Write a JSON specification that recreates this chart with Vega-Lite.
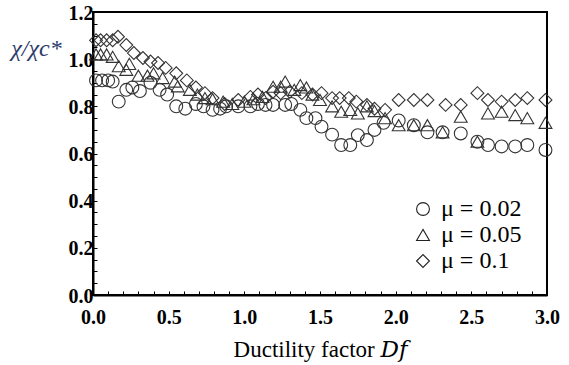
{
  "$schema": "https://vega.github.io/schema/vega-lite/v6.json",
  "width": 454,
  "height": 283,
  "autosize": {"type": "none"},
  "padding": {"left": 93, "top": 12, "right": 22, "bottom": 70},
  "background": "white",
  "config": {
    "view": {"stroke": "black", "strokeWidth": 2},
    "font": "Liberation Serif"
  },
  "data": {
    "values": [
      {"mu": "μ = 0.02", "d": 0.02, "r": 0.91}, {"mu": "μ = 0.02", "d": 0.06, "r": 0.91}, {"mu": "μ = 0.02", "d": 0.10, "r": 0.91}, {"mu": "μ = 0.02", "d": 0.13, "r": 0.905},
      {"mu": "μ = 0.02", "d": 0.17, "r": 0.82}, {"mu": "μ = 0.02", "d": 0.22, "r": 0.87}, {"mu": "μ = 0.02", "d": 0.26, "r": 0.88}, {"mu": "μ = 0.02", "d": 0.31, "r": 0.865},
      {"mu": "μ = 0.02", "d": 0.38, "r": 0.90}, {"mu": "μ = 0.02", "d": 0.44, "r": 0.87}, {"mu": "μ = 0.02", "d": 0.49, "r": 0.85}, {"mu": "μ = 0.02", "d": 0.55, "r": 0.80},
      {"mu": "μ = 0.02", "d": 0.61, "r": 0.79}, {"mu": "μ = 0.02", "d": 0.68, "r": 0.81}, {"mu": "μ = 0.02", "d": 0.73, "r": 0.80}, {"mu": "μ = 0.02", "d": 0.79, "r": 0.785},
      {"mu": "μ = 0.02", "d": 0.84, "r": 0.79}, {"mu": "μ = 0.02", "d": 0.88, "r": 0.80}, {"mu": "μ = 0.02", "d": 0.96, "r": 0.80}, {"mu": "μ = 0.02", "d": 1.04, "r": 0.80},
      {"mu": "μ = 0.02", "d": 1.09, "r": 0.81}, {"mu": "μ = 0.02", "d": 1.14, "r": 0.806}, {"mu": "μ = 0.02", "d": 1.19, "r": 0.806}, {"mu": "μ = 0.02", "d": 1.27, "r": 0.806},
      {"mu": "μ = 0.02", "d": 1.31, "r": 0.81}, {"mu": "μ = 0.02", "d": 1.37, "r": 0.785}, {"mu": "μ = 0.02", "d": 1.41, "r": 0.75}, {"mu": "μ = 0.02", "d": 1.47, "r": 0.75},
      {"mu": "μ = 0.02", "d": 1.51, "r": 0.714}, {"mu": "μ = 0.02", "d": 1.58, "r": 0.68}, {"mu": "μ = 0.02", "d": 1.64, "r": 0.636}, {"mu": "μ = 0.02", "d": 1.70, "r": 0.636},
      {"mu": "μ = 0.02", "d": 1.75, "r": 0.678}, {"mu": "μ = 0.02", "d": 1.81, "r": 0.657}, {"mu": "μ = 0.02", "d": 1.86, "r": 0.70}, {"mu": "μ = 0.02", "d": 1.92, "r": 0.73},
      {"mu": "μ = 0.02", "d": 2.02, "r": 0.74}, {"mu": "μ = 0.02", "d": 2.12, "r": 0.72}, {"mu": "μ = 0.02", "d": 2.21, "r": 0.69}, {"mu": "μ = 0.02", "d": 2.31, "r": 0.69},
      {"mu": "μ = 0.02", "d": 2.43, "r": 0.685}, {"mu": "μ = 0.02", "d": 2.54, "r": 0.65}, {"mu": "μ = 0.02", "d": 2.61, "r": 0.636}, {"mu": "μ = 0.02", "d": 2.70, "r": 0.63},
      {"mu": "μ = 0.02", "d": 2.79, "r": 0.63}, {"mu": "μ = 0.02", "d": 2.87, "r": 0.636}, {"mu": "μ = 0.02", "d": 2.99, "r": 0.615},

      {"mu": "μ = 0.05", "d": 0.02, "r": 1.02}, {"mu": "μ = 0.05", "d": 0.05, "r": 1.02}, {"mu": "μ = 0.05", "d": 0.09, "r": 1.02}, {"mu": "μ = 0.05", "d": 0.13, "r": 1.01},
      {"mu": "μ = 0.05", "d": 0.17, "r": 0.97}, {"mu": "μ = 0.05", "d": 0.22, "r": 0.955}, {"mu": "μ = 0.05", "d": 0.24, "r": 0.98}, {"mu": "μ = 0.05", "d": 0.30, "r": 0.93},
      {"mu": "μ = 0.05", "d": 0.36, "r": 0.93}, {"mu": "μ = 0.05", "d": 0.40, "r": 0.94}, {"mu": "μ = 0.05", "d": 0.46, "r": 0.92}, {"mu": "μ = 0.05", "d": 0.54, "r": 0.905},
      {"mu": "μ = 0.05", "d": 0.56, "r": 0.885}, {"mu": "μ = 0.05", "d": 0.64, "r": 0.87}, {"mu": "μ = 0.05", "d": 0.69, "r": 0.85}, {"mu": "μ = 0.05", "d": 0.74, "r": 0.835},
      {"mu": "μ = 0.05", "d": 0.79, "r": 0.83}, {"mu": "μ = 0.05", "d": 0.86, "r": 0.82}, {"mu": "μ = 0.05", "d": 0.92, "r": 0.81}, {"mu": "μ = 0.05", "d": 1.00, "r": 0.82},
      {"mu": "μ = 0.05", "d": 1.06, "r": 0.83}, {"mu": "μ = 0.05", "d": 1.12, "r": 0.84}, {"mu": "μ = 0.05", "d": 1.19, "r": 0.883}, {"mu": "μ = 0.05", "d": 1.24, "r": 0.883},
      {"mu": "μ = 0.05", "d": 1.27, "r": 0.905}, {"mu": "μ = 0.05", "d": 1.33, "r": 0.87}, {"mu": "μ = 0.05", "d": 1.37, "r": 0.89}, {"mu": "μ = 0.05", "d": 1.41, "r": 0.88},
      {"mu": "μ = 0.05", "d": 1.45, "r": 0.85}, {"mu": "μ = 0.05", "d": 1.50, "r": 0.827}, {"mu": "μ = 0.05", "d": 1.58, "r": 0.80}, {"mu": "μ = 0.05", "d": 1.64, "r": 0.777},
      {"mu": "μ = 0.05", "d": 1.70, "r": 0.785}, {"mu": "μ = 0.05", "d": 1.75, "r": 0.77}, {"mu": "μ = 0.05", "d": 1.81, "r": 0.80}, {"mu": "μ = 0.05", "d": 1.86, "r": 0.78},
      {"mu": "μ = 0.05", "d": 1.93, "r": 0.75}, {"mu": "μ = 0.05", "d": 2.02, "r": 0.72}, {"mu": "μ = 0.05", "d": 2.12, "r": 0.72}, {"mu": "μ = 0.05", "d": 2.21, "r": 0.72},
      {"mu": "μ = 0.05", "d": 2.31, "r": 0.69}, {"mu": "μ = 0.05", "d": 2.43, "r": 0.756}, {"mu": "μ = 0.05", "d": 2.54, "r": 0.65}, {"mu": "μ = 0.05", "d": 2.61, "r": 0.77},
      {"mu": "μ = 0.05", "d": 2.70, "r": 0.777}, {"mu": "μ = 0.05", "d": 2.79, "r": 0.763}, {"mu": "μ = 0.05", "d": 2.87, "r": 0.75}, {"mu": "μ = 0.05", "d": 2.99, "r": 0.73},

      {"mu": "μ = 0.1", "d": 0.02, "r": 1.08}, {"mu": "μ = 0.1", "d": 0.05, "r": 1.08}, {"mu": "μ = 0.1", "d": 0.09, "r": 1.08}, {"mu": "μ = 0.1", "d": 0.13, "r": 1.08},
      {"mu": "μ = 0.1", "d": 0.165, "r": 1.095}, {"mu": "μ = 0.1", "d": 0.22, "r": 1.06}, {"mu": "μ = 0.1", "d": 0.27, "r": 1.026}, {"mu": "μ = 0.1", "d": 0.33, "r": 1.005},
      {"mu": "μ = 0.1", "d": 0.38, "r": 0.99}, {"mu": "μ = 0.1", "d": 0.43, "r": 0.984}, {"mu": "μ = 0.1", "d": 0.48, "r": 0.963}, {"mu": "μ = 0.1", "d": 0.55, "r": 0.94},
      {"mu": "μ = 0.1", "d": 0.62, "r": 0.91}, {"mu": "μ = 0.1", "d": 0.68, "r": 0.88}, {"mu": "μ = 0.1", "d": 0.74, "r": 0.856}, {"mu": "μ = 0.1", "d": 0.79, "r": 0.835},
      {"mu": "μ = 0.1", "d": 0.87, "r": 0.81}, {"mu": "μ = 0.1", "d": 0.96, "r": 0.827}, {"mu": "μ = 0.1", "d": 1.04, "r": 0.84}, {"mu": "μ = 0.1", "d": 1.09, "r": 0.85},
      {"mu": "μ = 0.1", "d": 1.14, "r": 0.835}, {"mu": "μ = 0.1", "d": 1.19, "r": 0.862}, {"mu": "μ = 0.1", "d": 1.24, "r": 0.856}, {"mu": "μ = 0.1", "d": 1.30, "r": 0.862},
      {"mu": "μ = 0.1", "d": 1.38, "r": 0.856}, {"mu": "μ = 0.1", "d": 1.45, "r": 0.85}, {"mu": "μ = 0.1", "d": 1.51, "r": 0.856}, {"mu": "μ = 0.1", "d": 1.58, "r": 0.835},
      {"mu": "μ = 0.1", "d": 1.63, "r": 0.835}, {"mu": "μ = 0.1", "d": 1.69, "r": 0.835}, {"mu": "μ = 0.1", "d": 1.74, "r": 0.82}, {"mu": "μ = 0.1", "d": 1.81, "r": 0.806},
      {"mu": "μ = 0.1", "d": 1.86, "r": 0.79}, {"mu": "μ = 0.1", "d": 1.93, "r": 0.785}, {"mu": "μ = 0.1", "d": 2.02, "r": 0.827}, {"mu": "μ = 0.1", "d": 2.12, "r": 0.827},
      {"mu": "μ = 0.1", "d": 2.21, "r": 0.827}, {"mu": "μ = 0.1", "d": 2.33, "r": 0.806}, {"mu": "μ = 0.1", "d": 2.43, "r": 0.806}, {"mu": "μ = 0.1", "d": 2.54, "r": 0.856},
      {"mu": "μ = 0.1", "d": 2.61, "r": 0.827}, {"mu": "μ = 0.1", "d": 2.70, "r": 0.82}, {"mu": "μ = 0.1", "d": 2.79, "r": 0.827}, {"mu": "μ = 0.1", "d": 2.87, "r": 0.835},
      {"mu": "μ = 0.1", "d": 2.99, "r": 0.827}
    ]
  },
  "mark": {"type": "point", "filled": false, "size": 165, "strokeWidth": 1.1, "color": "#333333", "opacity": 1, "clip": false},
  "encoding": {
    "x": {
      "field": "d", "type": "quantitative",
      "scale": {"domain": [0, 3], "nice": false, "zero": false},
      "axis": {
        "title": "Ductility factor 𝐷𝑓",
        "titleFont": "Liberation Serif, DejaVu Serif, serif", "titleFontSize": 23, "titleFontWeight": "normal", "titleColor": "black", "titlePadding": 11,
        "values": [0,0.1,0.2,0.3,0.4,0.5,0.6,0.7,0.8,0.9,1,1.1,1.2,1.3,1.4,1.5,1.6,1.7,1.8,1.9,2,2.1,2.2,2.3,2.4,2.5,2.6,2.7,2.8,2.9,3],
        "labelExpr": "abs(datum.value*2 - round(datum.value*2)) < 0.001 ? format(datum.value, '.1f') : ''",
        "labelFont": "Liberation Serif", "labelFontSize": 20, "labelFontWeight": "bold", "labelColor": "black",
        "labelPadding": 16, "labelOverlap": false, "labelFlush": false,
        "tickSize": -4, "tickColor": "black", "tickWidth": 1,
        "domainColor": "black", "domainWidth": 2, "grid": false
      }
    },
    "y": {
      "field": "r", "type": "quantitative",
      "scale": {"domain": [0, 1.2], "nice": false, "zero": false},
      "axis": {
        "title": "χ/χc*",
        "titleFont": "Liberation Serif", "titleFontSize": 24, "titleFontStyle": "italic", "titleFontWeight": "normal", "titleColor": "#2b3a6b",
        "titleAngle": 0, "titleAlign": "center", "titleBaseline": "middle", "titleX": -57, "titleY": 36,
        "values": [0,0.05,0.1,0.15,0.2,0.25,0.3,0.35,0.4,0.45,0.5,0.55,0.6,0.65,0.7,0.75,0.8,0.85,0.9,0.95,1,1.05,1.1,1.15,1.2],
        "labelExpr": "abs(datum.value*5 - round(datum.value*5)) < 0.001 ? format(datum.value, '.1f') : ''",
        "labelFont": "Liberation Serif", "labelFontSize": 20, "labelFontWeight": "bold", "labelColor": "black",
        "labelPadding": 4, "labelOverlap": false, "labelFlush": false, "labelBaseline": "alphabetic", "labelOffset": 7,
        "tickSize": -4, "tickColor": "black", "tickWidth": 1,
        "domainColor": "black", "domainWidth": 2, "grid": false
      }
    },
    "shape": {
      "field": "mu", "type": "nominal",
      "scale": {"domain": ["μ = 0.02", "μ = 0.05", "μ = 0.1"], "range": ["circle", "triangle-up", "diamond"]},
      "legend": {
        "title": null, "orient": "none", "legendX": 318, "legendY": 185,
        "symbolSize": 165, "symbolStrokeColor": "#222222", "symbolFillColor": "transparent", "symbolStrokeWidth": 1.1,
        "labelFont": "Liberation Serif", "labelFontSize": 24, "labelColor": "black", "labelOffset": 6, "rowPadding": 2
      }
    }
  }
}
